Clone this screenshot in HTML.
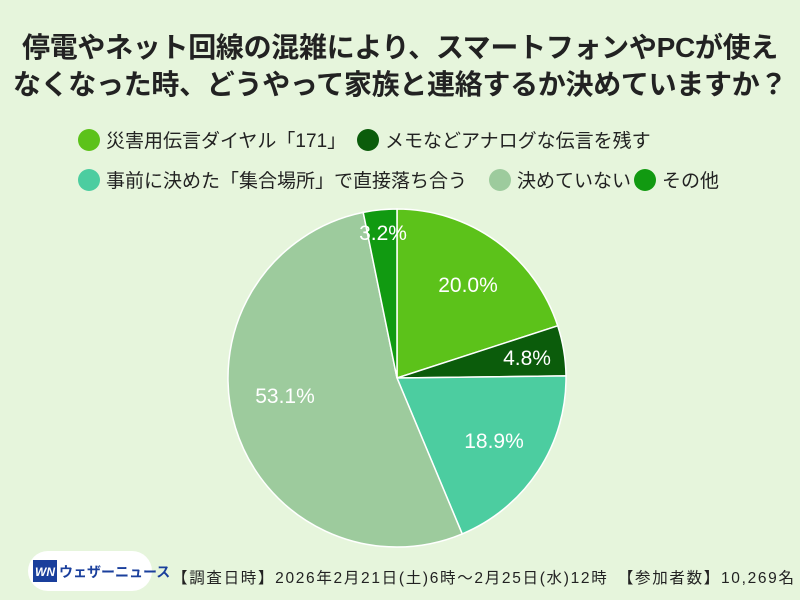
<!DOCTYPE html>
<html><head><meta charset="utf-8"><style>
body{margin:0;width:800px;height:600px;background:#e6f5dc;font-family:"Liberation Sans","Noto Sans CJK JP",sans-serif;position:relative;overflow:hidden}
.t{position:absolute;left:0;width:800px;text-align:center;font-weight:bold;font-size:28px;color:#222;letter-spacing:-0.3px;white-space:nowrap}
.lg{position:absolute;font-size:19px;color:#222;display:flex;align-items:center;white-space:nowrap}
.lg i{display:inline-block;width:22px;height:22px;border-radius:50%;margin-right:6px}
</style></head><body>
<div class="t" style="top:26px">停電やネット回線の混雑により、スマートフォンやPCが使え</div>
<div class="t" style="top:63px">なくなった時、どうやって家族と連絡するか決めていますか？</div>
<div class="lg" style="left:78px;top:126px"><i style="background:#5cc21a"></i>災害用伝言ダイヤル「171」</div>
<div class="lg" style="left:357px;top:126px"><i style="background:#0b5c0b"></i>メモなどアナログな伝言を残す</div>
<div class="lg" style="left:78px;top:166px"><i style="background:#4ccda0"></i>事前に決めた「集合場所」で直接落ち合う</div>
<div class="lg" style="left:489px;top:166px"><i style="background:#9dcb9d"></i>決めていない</div>
<div class="lg" style="left:634px;top:166px"><i style="background:#119a11"></i>その他</div>
<svg width="800" height="600" style="position:absolute;left:0;top:0">
<g stroke="#fff" stroke-width="1.5">
<path d="M397,378 L397,209 A169,169 0 0 1 557.7,325.8 Z" fill="#5cc21a"/>
<path d="M397,378 L557.7,325.8 A169,169 0 0 1 566,375.9 Z" fill="#0b5c0b"/>
<path d="M397,378 L566,375.9 A169,169 0 0 1 462.2,533.9 Z" fill="#4ccda0"/>
<path d="M397,378 L462.2,533.9 A169,169 0 1 1 363.2,212.4 Z" fill="#9dcb9d"/>
<path d="M397,378 L363.2,212.4 A169,169 0 0 1 397,209 Z" fill="#119a11"/>
</g>
<g fill="#fff" font-size="21" font-family="Liberation Sans,sans-serif" text-anchor="middle">
<text x="468" y="292">20.0%</text>
<text x="527" y="365">4.8%</text>
<text x="494" y="448">18.9%</text>
<text x="285" y="403">53.1%</text>
<text x="383" y="240">3.2%</text>
</g>
<rect x="28" y="551" width="124" height="40" rx="20" fill="#fff"/>
<rect x="33" y="560" width="24" height="22" fill="#1a3f9c"/>
<text x="45" y="576" fill="#fff" font-size="12" font-weight="bold" text-anchor="middle" font-style="italic" font-family="Liberation Sans,sans-serif">WN</text>
<text x="59" y="577" fill="#1a3f9c" font-size="14" font-weight="bold" font-family="Liberation Sans,Noto Sans CJK JP,sans-serif">ウェザーニュース</text>
<text x="172" y="583" fill="#222" font-size="15.5" font-family="Liberation Sans,Noto Sans CJK JP,sans-serif" textLength="622">【調査日時】2026年2月21日(土)6時～2月25日(水)12時　【参加者数】10,269名</text>
</svg>
</body></html>
